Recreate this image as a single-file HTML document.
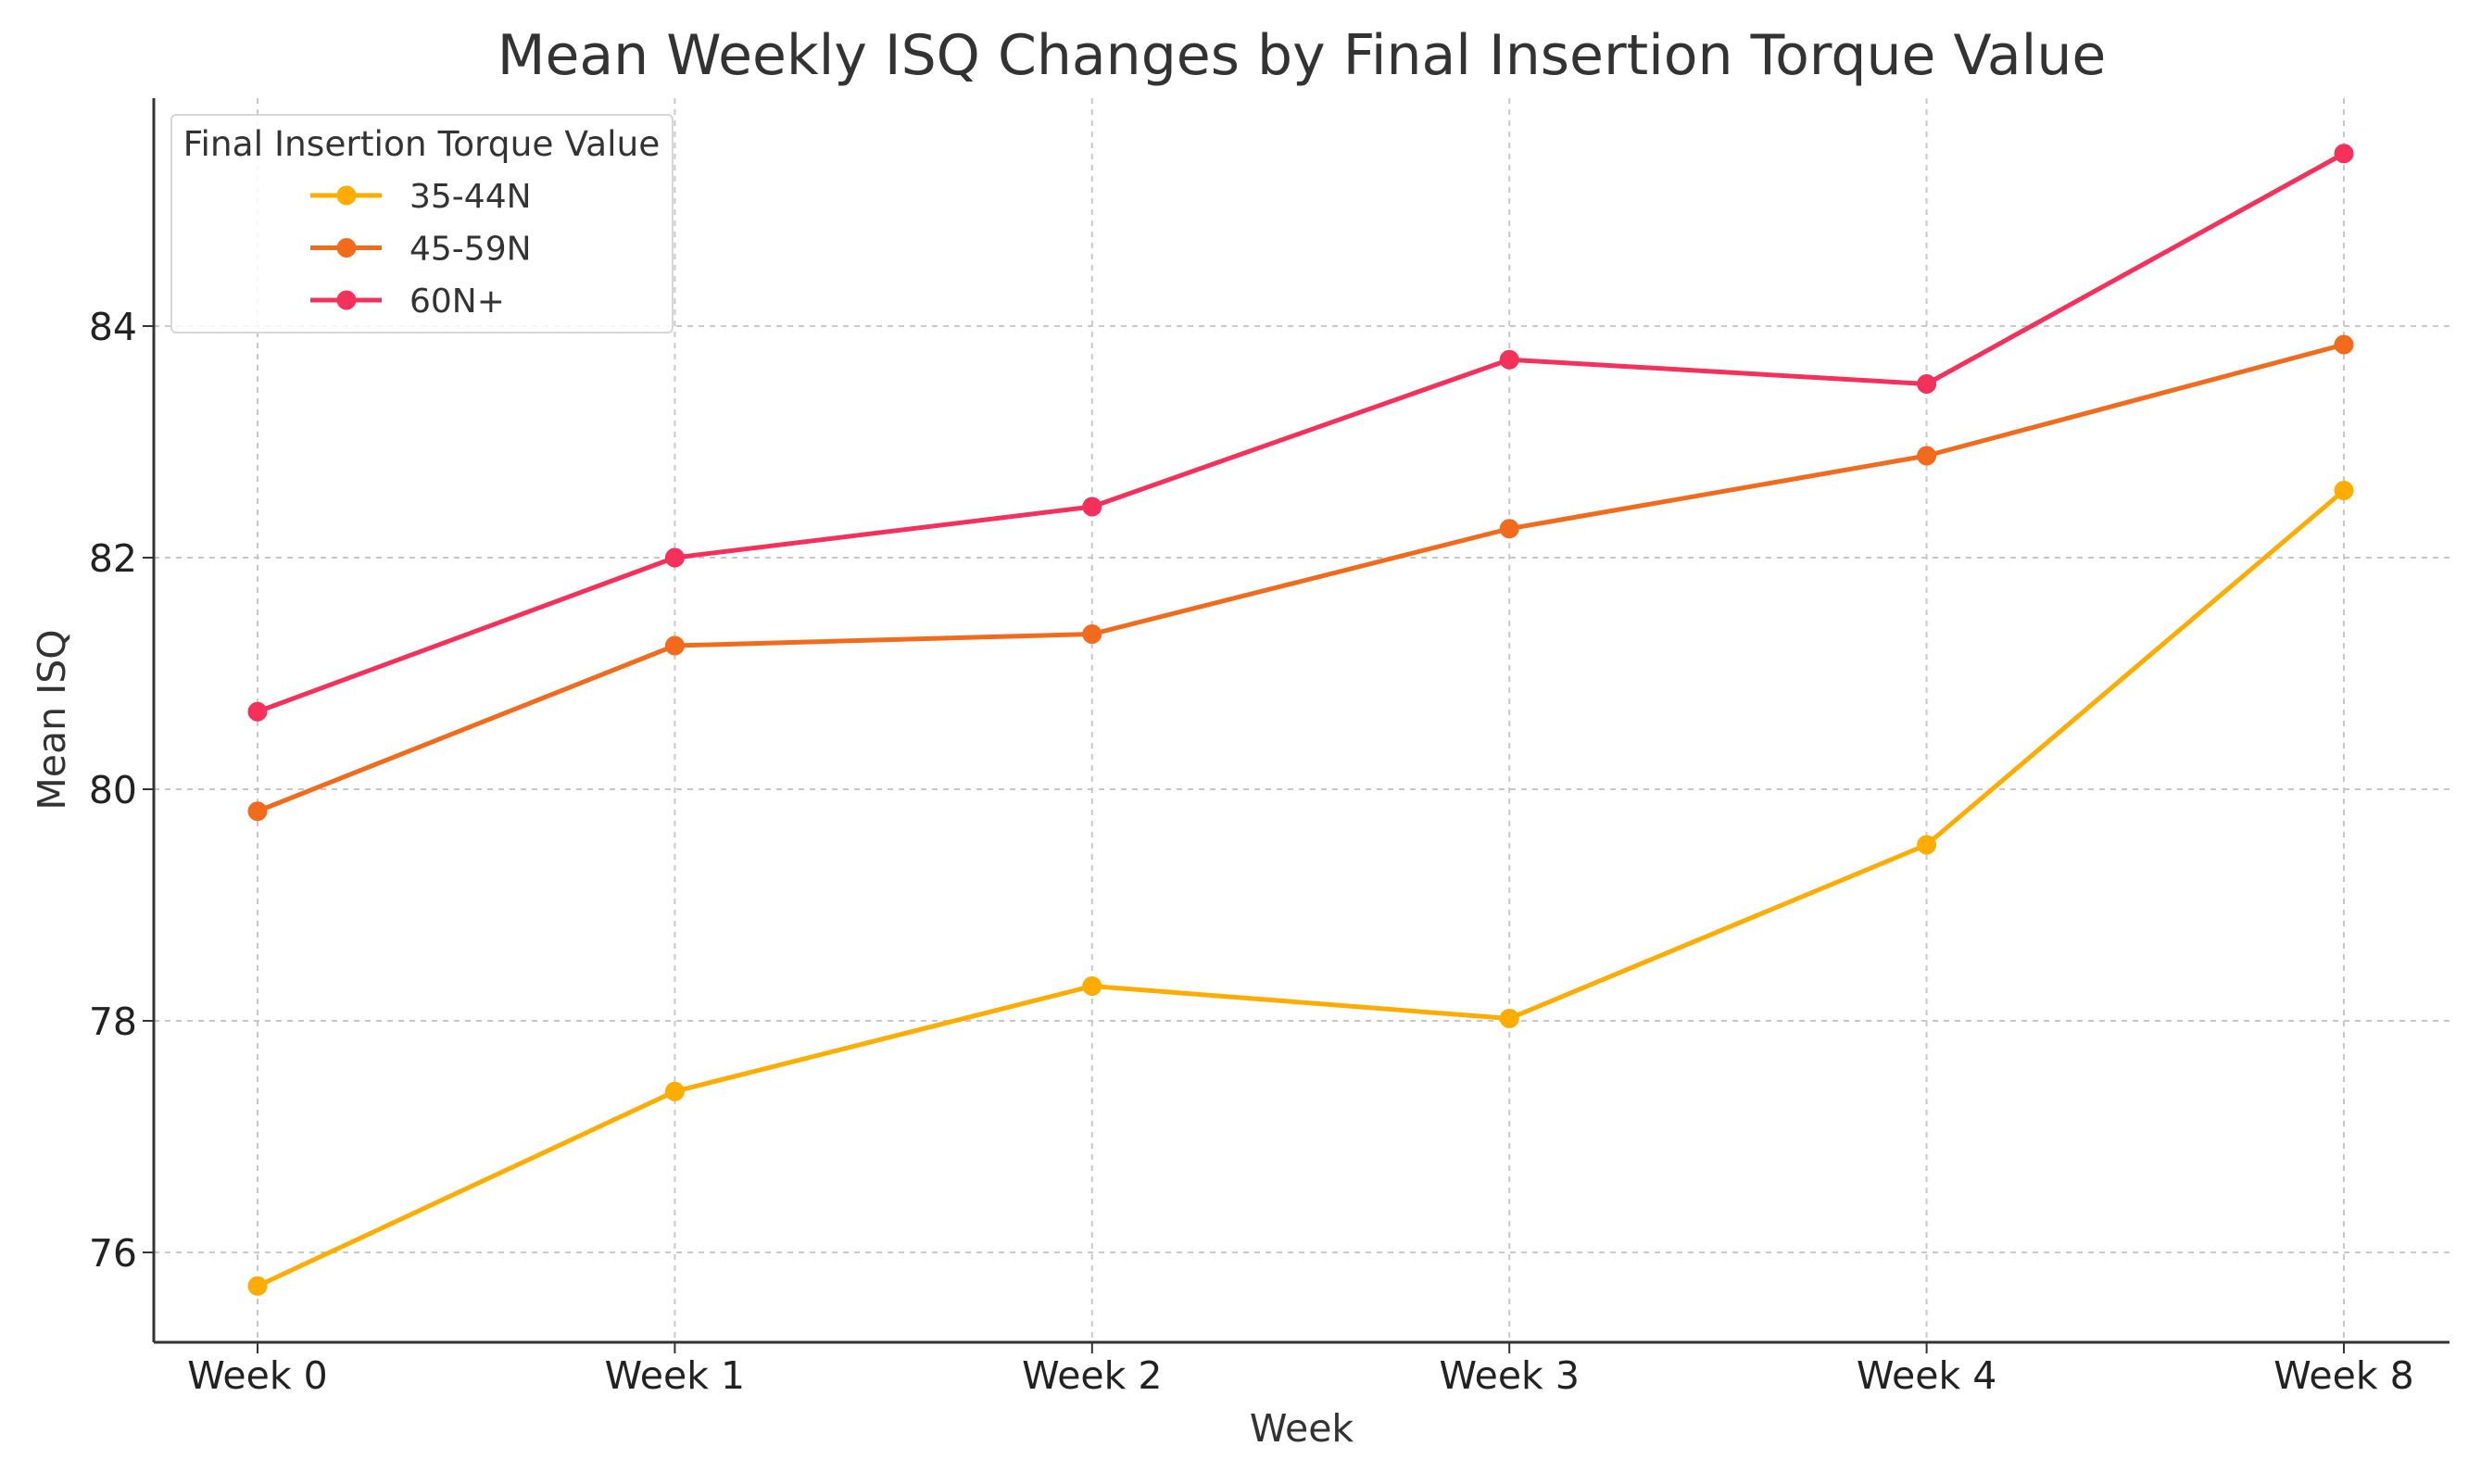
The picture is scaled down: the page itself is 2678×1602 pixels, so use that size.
<!DOCTYPE html>
<html><head><meta charset="utf-8">
<style>
html,body{margin:0;padding:0;background:#fff;}
svg{display:block;font-family:"DejaVu Sans","Liberation Sans",sans-serif;}
</style></head>
<body>
<svg id="chart" width="2678" height="1602" viewBox="0 0 2678 1602" xmlns="http://www.w3.org/2000/svg">
<rect width="2678" height="1602" fill="#fff"/>
<text x="1405" y="80" font-size="60" fill="#333" text-anchor="middle">Mean Weekly ISQ Changes by Final Insertion Torque Value</text>
<g id="grid"></g>
<g id="axes"></g>
<g id="series"></g>
<text x="1405" y="1556" font-size="41" fill="#333" text-anchor="middle">Week</text>
<text x="0" y="0" font-size="41" fill="#333" text-anchor="middle" transform="translate(70,777) rotate(-90)">Mean ISQ</text>
<g id="legend"></g>
</svg>
<script>
const categories = ["Week 0","Week 1","Week 2","Week 3","Week 4","Week 8"];
const seriesNames = ["35-44N","45-59N","60N+"];
const series35 = [75.71,77.39,78.30,78.02,79.52,82.58];
const series45 = [79.81,81.24,81.34,82.25,82.88,83.84];
const series60 = [80.67,82.00,82.44,83.71,83.50,85.49];
const yTicks = [76,78,80,82,84];
const colors = ["#ffac00","#f26b1d","#f5305a"];

const NS="http://www.w3.org/2000/svg";
const pL=166,pR=2644,pT=106,pB=1449;
const x0=278,x1=2530;
const yMin=75.224,yMax=85.968;
function xs(i){return x0+(x1-x0)*i/(categories.length-1);}
function ys(v){return pB-(v-yMin)/(yMax-yMin)*(pB-pT);}
function mk(tag,attrs,parent){const e=document.createElementNS(NS,tag);for(const k in attrs)e.setAttribute(k,attrs[k]);parent.appendChild(e);return e;}

const grid=document.getElementById('grid'),axes=document.getElementById('axes'),sg=document.getElementById('series'),lg=document.getElementById('legend');
categories.forEach((c,i)=>{
  const x=xs(i);
  const gl=mk('line',{x1:x,x2:x,y1:pT,y2:pB,stroke:'#c8c8c8','stroke-width':2,'stroke-dasharray':'6 6'},grid);
  
  
  const t=mk('line',{x1:x,x2:x,y1:pB,y2:pB+12,stroke:'#333','stroke-width':2},axes);
  
  
  const lb=mk('text',{x:x,y:pB+50,'font-size':41,fill:'#222','text-anchor':'middle'},axes);
  lb.textContent=c;
  
  
});
yTicks.forEach(v=>{
  const y=ys(v);
  const gl=mk('line',{x1:pL,x2:pR,y1:y,y2:y,stroke:'#c8c8c8','stroke-width':2,'stroke-dasharray':'6 6'},grid);
  
  
  const t=mk('line',{x1:pL-12,x2:pL,y1:y,y2:y,stroke:'#333','stroke-width':2},axes);
  
  
  const lb=mk('text',{x:pL-18,y:y+15,'font-size':41,fill:'#222','text-anchor':'end'},axes);
  lb.textContent=v;
  
  
});
const ya=mk('line',{x1:pL,x2:pL,y1:pT,y2:pB,stroke:'#333','stroke-width':3},axes);


const xa=mk('line',{x1:pL,x2:pR,y1:pB,y2:pB,stroke:'#333','stroke-width':3},axes);



[series35,series45,series60].forEach((vals,si)=>{
  const pts=vals.map((v,i)=>xs(i)+','+ys(v)).join(' ');
  const pl=mk('polyline',{points:pts,fill:'none',stroke:colors[si],'stroke-width':5,'stroke-linejoin':'round'},sg);
  
  
  vals.forEach((v,i)=>{
    const c=mk('circle',{cx:xs(i),cy:ys(v),r:10.5,fill:colors[si]},sg);
    
    
  });
});

const box=mk('rect',{x:185,y:124,width:541,height:235,rx:5,fill:'#fff','fill-opacity':0.85,stroke:'#d6d6d6','stroke-width':2},lg);


const lt=mk('text',{x:455,y:168,'font-size':37.5,fill:'#333','text-anchor':'middle'},lg);
lt.textContent='Final Insertion Torque Value';


seriesNames.forEach((n,i)=>{
  const y=211+i*56.5;
  const g=mk('g',{},lg);
  
  
  mk('line',{x1:335,x2:412,y1:y,y2:y,stroke:colors[i],'stroke-width':5},g);
  mk('circle',{cx:374,cy:y,r:10.5,fill:colors[i]},g);
  const t=mk('text',{x:442,y:y+13,'font-size':36,fill:'#333'},g);
  t.textContent=n;
});
</script>
</body></html>
